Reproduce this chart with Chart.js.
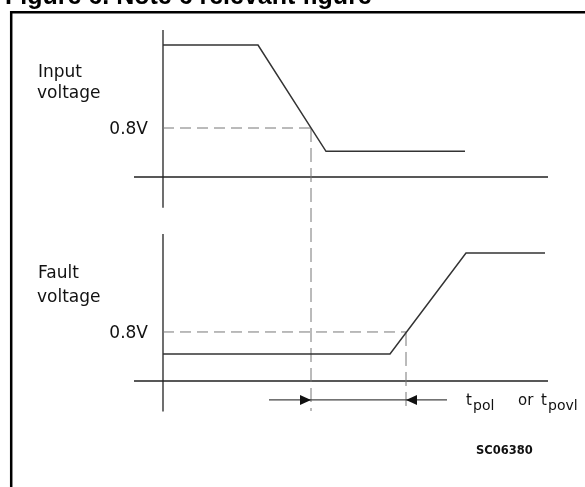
<!DOCTYPE html>
<html>
<head>
<meta charset="utf-8">
<script src="https://cdn.jsdelivr.net/npm/chart.js@4.4.1/dist/chart.umd.min.js"></script>
<style>
  html, body { margin: 0; padding: 0; background: #fff; }
  canvas { display: block; }
</style>
</head>
<body>
<canvas id="c" width="585" height="487"></canvas>
<script>
// ---- data (time in arbitrary units, voltage in V) ----
const inputTimes = [0, 9.5, 16.3, 30.2];
const inputVolts = [2.155, 2.155, 0.42, 0.42];
const faultTimes = [0, 22.7, 30.3, 38.2];
const faultVolts = [0.44, 0.44, 2.09, 2.09];
const threshold = 0.8;            // 0.8V
const tpolStart = 14.8;           // input crosses 0.8V
const tpolEnd = 24.3;             // fault crosses 0.8V
const timeAxisRange = [-2.9, 38.5];
const voltAxisRange = [-0.5, 2.4];
const guideBottom = -0.49;        // end of vertical guides (fault scale)
const arrowLevel = -0.31;         // dimension line level (fault scale)
const arrowRange = [10.6, 28.4];

const pts = (t, v) => t.map((x, i) => ({ x: x, y: v[i] }));

const dashH = [11, 6];
const dashV = [14, 6];

const drawingPlugin = {
  id: 'drawing',
  beforeDatasetsDraw(chart) {
    const ctx = chart.ctx;
    const x = chart.scales.x, yIn = chart.scales.yIn, yF = chart.scales.yF;
    ctx.save();
    // frame
    ctx.strokeStyle = '#000';
    ctx.lineWidth = 2.5;
    ctx.beginPath();
    ctx.moveTo(11.2, 487);
    ctx.lineTo(11.2, 12.2);
    ctx.lineTo(585, 12.2);
    ctx.stroke();
    // title
    ctx.fillStyle = '#000';
    ctx.font = "bold 25px 'Liberation Sans', Arial, sans-serif";
    ctx.textBaseline = 'alphabetic';
    ctx.fillText('Figure 6. Note 6 relevant figure', 5, 4);

    // axes
    ctx.strokeStyle = '#222';
    ctx.lineWidth = 1.3;
    [yIn, yF].forEach(ys => {
      ctx.beginPath();
      ctx.moveTo(x.getPixelForValue(0), ys.getPixelForValue(voltAxisRange[1]));
      ctx.lineTo(x.getPixelForValue(0), ys.getPixelForValue(voltAxisRange[0]));
      ctx.moveTo(x.getPixelForValue(timeAxisRange[0]), ys.getPixelForValue(0));
      ctx.lineTo(x.getPixelForValue(timeAxisRange[1]), ys.getPixelForValue(0));
      ctx.stroke();
    });

    // vertical guides
    ctx.strokeStyle = '#777';
    ctx.lineWidth = 1;
    ctx.setLineDash(dashV);
    ctx.beginPath();
    ctx.moveTo(x.getPixelForValue(tpolStart), yIn.getPixelForValue(threshold));
    ctx.lineTo(x.getPixelForValue(tpolStart), yF.getPixelForValue(guideBottom));
    ctx.moveTo(x.getPixelForValue(tpolEnd), yF.getPixelForValue(threshold));
    ctx.lineTo(x.getPixelForValue(tpolEnd), yF.getPixelForValue(guideBottom));
    ctx.stroke();
    ctx.setLineDash([]);

    // dimension line with arrows
    const ay = yF.getPixelForValue(arrowLevel);
    const xs = x.getPixelForValue(tpolStart), xe = x.getPixelForValue(tpolEnd);
    ctx.strokeStyle = '#444';
    ctx.lineWidth = 1.3;
    ctx.beginPath();
    ctx.moveTo(x.getPixelForValue(arrowRange[0]), ay);
    ctx.lineTo(x.getPixelForValue(arrowRange[1]), ay);
    ctx.stroke();
    ctx.fillStyle = '#111';
    ctx.beginPath();
    ctx.moveTo(xs, ay); ctx.lineTo(xs - 11, ay - 5); ctx.lineTo(xs - 11, ay + 5); ctx.closePath();
    ctx.fill();
    ctx.beginPath();
    ctx.moveTo(xe, ay); ctx.lineTo(xe + 11, ay - 5); ctx.lineTo(xe + 11, ay + 5); ctx.closePath();
    ctx.fill();

    // labels
    ctx.fillStyle = '#111';
    ctx.font = "17px 'DejaVu Sans', sans-serif";
    ctx.textAlign = 'left';
    ctx.fillText('Input', 38, 77);
    ctx.fillText('voltage', 37, 98);
    ctx.fillText('Fault', 38, 278);
    ctx.fillText('voltage', 37, 302);
    ctx.textAlign = 'right';
    ctx.fillText('0.8V', 148, yIn.getPixelForValue(threshold) + 6);
    ctx.fillText('0.8V', 148, yF.getPixelForValue(threshold) + 6);

    ctx.textAlign = 'left';
    ctx.font = "15px 'DejaVu Sans', sans-serif";
    ctx.fillText('t', 466, 405);
    ctx.fillText('or', 518, 405);
    ctx.fillText('t', 541, 405);
    ctx.font = "14px 'DejaVu Sans', sans-serif";
    ctx.fillText('pol', 473, 410);
    ctx.fillText('povl', 548, 410);

    ctx.font = "bold 11.5px 'DejaVu Sans', sans-serif";
    ctx.fillText('SC06380', 476, 454);
    ctx.restore();
  }
};

new Chart(document.getElementById('c'), {
  type: 'scatter',
  data: {
    datasets: [
      { data: pts(inputTimes, inputVolts), yAxisID: 'yIn', showLine: true,
        borderColor: '#333', borderWidth: 1.5, pointRadius: 0, fill: false },
      { data: pts(faultTimes, faultVolts), yAxisID: 'yF', showLine: true,
        borderColor: '#333', borderWidth: 1.5, pointRadius: 0, fill: false },
      { data: pts([0, tpolStart], [threshold, threshold]), yAxisID: 'yIn', showLine: true,
        borderColor: '#777', borderWidth: 1, borderDash: dashH, pointRadius: 0 },
      { data: pts([0, tpolEnd], [threshold, threshold]), yAxisID: 'yF', showLine: true,
        borderColor: '#777', borderWidth: 1, borderDash: dashH, pointRadius: 0 }
    ]
  },
  options: {
    responsive: false,
    animation: false,
    layout: { padding: 0 },
    plugins: { legend: { display: false }, tooltip: { enabled: false } },
    scales: {
      x: { type: 'linear', min: -16.3, max: 42.2, display: false },
      yIn: { type: 'linear', min: -5.061, max: 2.890, display: false },
      yF: { type: 'linear', min: -1.731, max: 6.220, display: false }
    }
  },
  plugins: [drawingPlugin]
});
</script>
</body>
</html>
